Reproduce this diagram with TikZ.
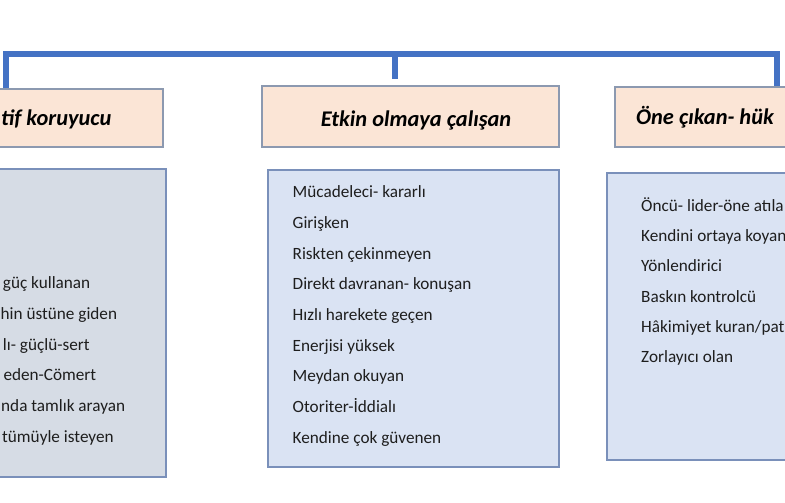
\documentclass[tikz,border=0pt]{standalone}
\usepackage{fontspec}
\setmainfont{Carlito}
\definecolor{barblue}{HTML}{4472C4}
\definecolor{peach}{HTML}{FBE5D6}
\definecolor{hdrline}{HTML}{8C99B0}
\definecolor{bodyline}{HTML}{7A90BA}
\definecolor{lightblue}{HTML}{DAE3F3}
\definecolor{graybox}{HTML}{D6DCE5}
\definecolor{txt}{HTML}{1E1E1E}
\begin{document}
\begin{tikzpicture}[x=1pt,y=-1pt,
  conn/.style={draw=barblue, line width=6pt, line join=miter},
  hdr/.style={draw=hdrline, line width=1.4pt, fill=peach, inner sep=0pt},
  bodybox/.style={draw=bodyline, line width=1.4pt, fill=lightblue, inner sep=0pt},
  graybody/.style={bodybox, fill=graybox},
  htext/.style={font=\fontsize{22.4}{26}\selectfont\bfseries\itshape, text=black, inner sep=0pt},
  item/.style={font=\fontsize{17.2}{20}\selectfont, text=txt, inner sep=0pt, anchor=base west}]
\useasboundingbox (0,0) rectangle (785,503);
\clip (0,0) rectangle (785,503);
\fill[white] (0,0) rectangle (785,503);
% junction coordinates
\coordinate (jL) at (5.5,54);
\coordinate (jC) at (395,54);
\coordinate (jR) at (776.5,54);
% header boxes
\node[hdr, minimum width=303pt, minimum height=58pt] (hL) at (11.5,118) {};
\node[hdr, minimum width=297pt, minimum height=61pt] (hC) at (410.5,116.5) {};
\node[hdr, minimum width=297pt, minimum height=60pt] (hR) at (763.5,117) {};
% connectors
\draw[conn] (jL |- hL.north) -- (jL) -- (jR) -- (jR |- hR.north);
\draw[conn, shorten >=6pt] (jC) -- (jC |- hC.north);
% header texts
\node[htext, anchor=base west] (tL) at (1,125.5) {tif koruyucu};
\node[htext, anchor=base] (tC) at (416,126.5) {Etkin olmaya çalışan};
\node[htext, anchor=base west] (tR) at (636,124.5) {Öne çıkan- hük};
% body boxes
\node[graybody, minimum width=296pt, minimum height=308pt] (bL) at (18,323) {};
\node[bodybox, minimum width=291pt, minimum height=297pt] (bC) at (413.5,318.5) {};
\node[bodybox, minimum width=291pt, minimum height=287pt] (bR) at (752.5,316.5) {};
% left items
\node[item] (l1) at (2.7,288.5) {güç kullanan};
\node[item] (l2) at (0.5,319.3) {hin üstüne giden};
\node[item] (l3) at (2.7,350.1) {lı- güçlü-sert};
\node[item] (l4) at (3.3,380.9) {eden-Cömert};
\node[item] (l5) at (1,411.7) {nda tamlık arayan};
\node[item] (l6) at (2,442.5) {tümüyle isteyen};
% center items
\node[item] (c1) at (292.5,197.7) {Mücadeleci- kararlı};
\node[item] (c2) at (292.5,228.4) {Girişken};
\node[item] (c3) at (292.5,259.1) {Riskten çekinmeyen};
\node[item] (c4) at (292.5,289.8) {Direkt davranan- konuşan};
\node[item] (c5) at (292.5,320.5) {Hızlı harekete geçen};
\node[item] (c6) at (292.5,351.2) {Enerjisi yüksek};
\node[item] (c7) at (292.5,381.9) {Meydan okuyan};
\node[item] (c8) at (292.5,412.6) {Otoriter-İddialı};
\node[item] (c9) at (292.5,443.3) {Kendine çok güvenen};
% right items
\node[item] (r1) at (641,211.5) {Öncü- lider-öne atıla};
\node[item] (r2) at (641,241.7) {Kendini ortaya koyan};
\node[item] (r3) at (641,271.9) {Yönlendirici};
\node[item] (r4) at (641,302.1) {Baskın kontrolcü};
\node[item] (r5) at (641,332.3) {Hâkimiyet kuran/pat};
\node[item] (r6) at (641,362.5) {Zorlayıcı olan};
\end{tikzpicture}
\end{document}
